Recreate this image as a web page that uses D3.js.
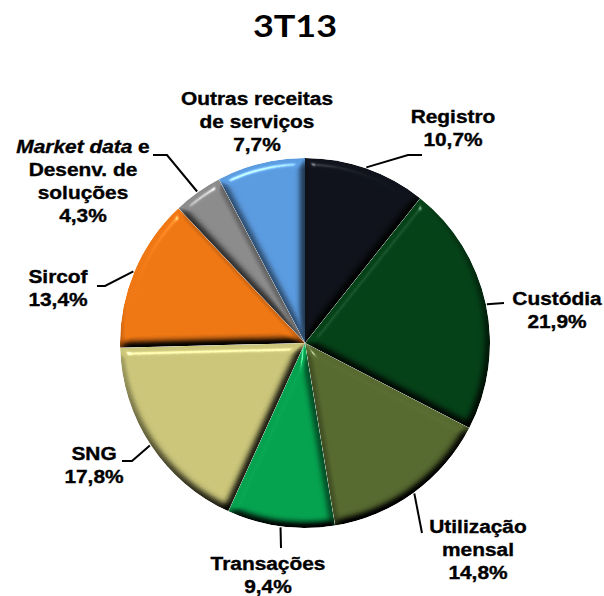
<!DOCTYPE html>
<html>
<head>
<meta charset="utf-8">
<script src="https://cdn.jsdelivr.net/npm/d3@7"></script>
<style>
  html, body { margin: 0; padding: 0; background: #fff; }
  svg { display: block; }
</style>
</head>
<body>
<svg id="chart" width="604" height="596"></svg>
<script>
// ---- data ----
const title = "3T13";
const categories = ["Registro", "Custódia", "Utilização mensal", "Transações", "SNG", "Sircof", "Market data e Desenv. de soluções", "Outras receitas de serviços"];
const values = [10.7, 21.9, 14.8, 9.4, 17.8, 13.4, 4.3, 7.7];
const colors = ["#10131b", "#054218", "#576a30", "#05a350", "#cbc67a", "#ef7714", "#8c8c8c", "#5b9be0"];
// label text lines (category part), last line is the value
const labelLines = [
  [["Registro"]],
  [["Custódia"]],
  [["Utilização"], ["mensal"]],
  [["Transações"]],
  [["SNG"]],
  [["Sircof"]],
  [["Market data", true, " e"], ["Desenv. de"], ["soluções"]],
  [["Outras receitas"], ["de serviços"]]
];

// ---- layout ----
const W = 604, H = 596;
const cx = 305, cy = 343, R = 185;
const lineH = 23;
const labelPos = [
  { x: 453, y: 123 },
  { x: 557, y: 305 },
  { x: 478, y: 533 },
  { x: 268, y: 570 },
  { x: 94, y: 460 },
  { x: 58, y: 283 },
  { x: 83, y: 153 },
  { x: 257, y: 105 }
];
// leader bend/end points (absolute), null = no leader
const leaders = [
  [[408, 155], [422, 155]],
  [[504, 303]],
  [[422, 533]],
  [[281, 548]],
  [[132, 461], [122, 461]],
  [[105, 286], [97, 286]],
  [[167, 155], [153, 155]],
  null
];

const locale = d3.formatLocale({ decimal: ",", thousands: ".", grouping: [3], currency: ["R$", ""] });
const fmt = v => locale.format(".1f")(v) + "%";

const svg = d3.select("#chart");

// bevel filter
const defs = svg.append("defs");
const f = defs.append("filter").attr("id", "bevel")
  .attr("x", "-10%").attr("y", "-10%").attr("width", "120%").attr("height", "120%")
  .attr("color-interpolation-filters", "sRGB");
f.append("feGaussianBlur").attr("in", "SourceAlpha").attr("stdDeviation", 4.5).attr("result", "blur");
const el = 50;
const dl = f.append("feDiffuseLighting").attr("in", "blur").attr("surfaceScale", 7)
  .attr("diffuseConstant", 1 / Math.sin(el * Math.PI / 180)).attr("lighting-color", "#ffffff").attr("result", "diff");
dl.append("feDistantLight").attr("azimuth", 250).attr("elevation", el);
f.append("feComposite").attr("in", "SourceGraphic").attr("in2", "diff").attr("operator", "arithmetic")
  .attr("k1", 1).attr("k2", 0).attr("k3", 0).attr("k4", 0).attr("result", "lit");
const sl = f.append("feSpecularLighting").attr("in", "blur").attr("surfaceScale", 7)
  .attr("specularConstant", 0.9).attr("specularExponent", 60).attr("lighting-color", "#ffffff").attr("result", "spec");
sl.append("feDistantLight").attr("azimuth", 250).attr("elevation", 35);
f.append("feComposite").attr("in", "spec").attr("in2", "SourceAlpha").attr("operator", "in").attr("result", "specIn");
f.append("feComposite").attr("in", "lit").attr("in2", "specIn").attr("operator", "arithmetic")
  .attr("k1", 0).attr("k2", 1).attr("k3", 0.5).attr("k4", 0).attr("result", "out");
f.append("feComposite").attr("in", "out").attr("in2", "SourceAlpha").attr("operator", "in");

// title
svg.append("text")
  .attr("transform", "translate(295,37) scale(1.2,1)")
  .attr("text-anchor", "middle")
  .style("font-family", "Lato, 'Open Sans', sans-serif")
  .style("font-weight", "bold")
  .style("font-size", "30px")
  .attr("fill", "#000")
  .text(title);

// pie
const pie = d3.pie().sort(null).value(d => d);
const arcs = pie(values);
const arc = d3.arc().innerRadius(0).outerRadius(R);
const rimArc = d3.arc().innerRadius(R + 1).outerRadius(R + 1);

const g = svg.append("g").attr("transform", `translate(${cx},${cy})`);
g.selectAll("path.slice")
  .data(arcs)
  .join("path")
  .attr("class", "slice")
  .attr("d", arc)
  .attr("fill", (d, i) => colors[i])
  .attr("filter", "url(#bevel)");

// leaders
arcs.forEach((d, i) => {
  if (!leaders[i]) return;
  const c = rimArc.centroid(d);
  const pts = [[c[0] + cx, c[1] + cy]].concat(leaders[i]);
  svg.append("path")
    .attr("d", d3.line()(pts))
    .attr("fill", "none")
    .attr("stroke", "#000")
    .attr("stroke-width", 2);
});

// labels
arcs.forEach((d, i) => {
  const p = labelPos[i];
  const lg = svg.append("g").attr("transform", `translate(${p.x},${p.y}) scale(1.16,1)`);
  const t = lg.append("text")
    .attr("text-anchor", "middle")
    .style("font-family", "'Liberation Sans', Arial, sans-serif")
    .style("font-weight", "bold")
    .style("font-size", "18px")
    .attr("fill", "#000")
    .attr("stroke", "#000")
    .attr("stroke-width", 0.35);
  const lines = labelLines[i].concat([[fmt(values[i])]]);
  lines.forEach((ln, k) => {
    const ts = t.append("tspan").attr("x", 0).attr("y", k * lineH);
    if (ln.length === 3) {
      ts.append("tspan").style("font-style", "italic").text(ln[0]);
      ts.append("tspan").text(ln[2]);
    } else {
      ts.text(ln[0]);
    }
  });
});
</script>
</body>
</html>
